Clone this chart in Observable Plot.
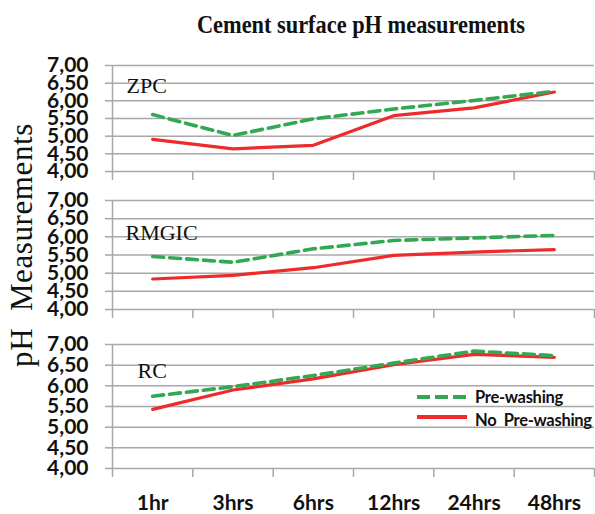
<!DOCTYPE html>
<html><head><meta charset="utf-8">
<script src="https://cdn.jsdelivr.net/npm/d3@7"></script>
<script src="https://cdn.jsdelivr.net/npm/@observablehq/plot@0.6"></script>
<style>
body{margin:0;background:#fff}
#wrap{position:relative;width:595px;height:514px;overflow:hidden;background:#fff}
#title{position:absolute;top:10px;left:361px;line-height:26px;transform:translateX(-50%) scaleX(0.86);font:bold 26px "Liberation Serif";white-space:nowrap;color:#111}
#ylab{position:absolute;left:22px;top:245px;line-height:1;transform:translate(-50%,-50%) rotate(-90deg);font:31px "Liberation Serif";letter-spacing:0.6px;white-space:pre;color:#111}
#legend{position:absolute;left:417px;top:385px;font:bold 16.5px Lato;letter-spacing:-0.3px;color:#111}
#legend .row{position:absolute;left:0;white-space:pre;display:flex;align-items:center}
</style></head><body><div id="wrap"></div>
<script>
const times = ["1hr","3hrs","6hrs","12hrs","24hrs","48hrs"];
const yTicks = [4.0,4.5,5.0,5.5,6.0,6.5,7.0];
const seriesNames = ["Pre-washing","No  Pre-washing"];
const cements = ["ZPC","RMGIC","RC"];
const zpcPre   = [5.61,5.02,5.49,5.77,6.01,6.27];
const zpcNo    = [4.91,4.64,4.74,5.58,5.80,6.25];
const rmgicPre = [5.46,5.30,5.67,5.90,5.97,6.04];
const rmgicNo  = [4.84,4.94,5.15,5.49,5.58,5.65];
const rcPre    = [5.75,5.98,6.25,6.55,6.84,6.73];
const rcNo     = [5.43,5.90,6.17,6.51,6.76,6.69];

const GREEN = "#33a852", RED = "#ee2a2a", GRID = "#a8a8a8";
const fmt = d => d.toFixed(2).replace(".", ",");
const wrap = document.getElementById("wrap");

function panel(name, pre, no, top, innerH, marginBottom, labelDx, labelDy, showX) {
  const rows = times.flatMap((t, i) => [
    {t, i, s: seriesNames[0], v: pre[i]},
    {t, i, s: seriesNames[1], v: no[i]}
  ]);
  const marks = [
    Plot.ruleY(yTicks, {stroke: GRID, strokeWidth: 1.5}),
    Plot.axisY({ticks: yTicks, tickSize: 7, tickFormat: () => "", color: GRID, strokeWidth: 1.5, label: null}),
    Plot.axisY({ticks: yTicks, tickSize: 0, tickPadding: 24, tickFormat: fmt, color: "#111", label: null,
      fontSize: 21, fontWeight: "bold", fontFamily: "Lato"}),
    Plot.ruleX([0], {stroke: GRID, strokeWidth: 1.5}),
    Plot.axisX({ticks: d3.range(0, times.length + 1), tickSize: 9, tickFormat: () => "", color: GRID, strokeWidth: 1.5, label: null}),
    Plot.line(rows.filter(d => d.s === seriesNames[1]), {x: d => d.i + 0.5, y: "v", stroke: RED, strokeWidth: 3.2}),
    Plot.line(rows.filter(d => d.s === seriesNames[0]), {x: d => d.i + 0.5, y: "v", stroke: GREEN, strokeWidth: 3.6, strokeDasharray: "11,6"}),
    Plot.text([name], {frameAnchor: "top-left", dx: labelDx, dy: labelDy, lineAnchor: "middle",
      fontFamily: "Liberation Serif", fontSize: 22, fontWeight: "normal", fill: "#111"})
  ];
  if (showX) {
    marks.push(Plot.axisX({ticks: times.map((_, i) => i + 0.5), tickFormat: d => times[Math.floor(d)], label: null,
      tickSize: 0, tickPadding: 27, color: "#111", fontSize: 21, fontWeight: "bold", fontFamily: "Lato"}));
  }
  const svg = Plot.plot({
    width: 595,
    height: 10 + innerH + marginBottom,
    marginTop: 10, marginBottom, marginLeft: 112, marginRight: 1,
    x: {domain: [0, times.length], label: null},
    y: {domain: [4, 7], label: null},
    style: {background: "transparent", fontFamily: "Lato", fontWeight: "bold", fontSize: "21px", overflow: "visible"},
    marks
  });
  svg.style.position = "absolute";
  svg.style.left = "0px";
  svg.style.top = top + "px";
  wrap.appendChild(svg);
}

panel(cements[0], zpcPre, zpcNo, 55, 106, 12, 14, 20, false);
panel(cements[1], rmgicPre, rmgicNo, 190, 109, 10, 13, 32, false);
panel(cements[2], rcPre, rcNo, 334, 124, 45, 25, 26, true);

const title = document.createElement("div");
title.id = "title";
title.textContent = "Cement surface pH measurements";
wrap.appendChild(title);

const ylab = document.createElement("div");
ylab.id = "ylab";
ylab.textContent = "pH  Measurements";
wrap.appendChild(ylab);

const legend = document.createElement("div");
legend.id = "legend";
legend.innerHTML =
  `<div class="row" style="top:0px"><svg width="58" height="24"><line x1="0" x2="50" y1="12" y2="12" stroke="${GREEN}" stroke-width="4" stroke-dasharray="13,5"/></svg><span>${seriesNames[0]}</span></div>` +
  `<div class="row" style="top:25px"><svg width="58" height="24" style="margin-top:-14px"><line x1="0" x2="50" y1="16" y2="16" stroke="${RED}" stroke-width="4"/></svg><span>${seriesNames[1]}</span></div>`;
wrap.appendChild(legend);
</script></body></html>
